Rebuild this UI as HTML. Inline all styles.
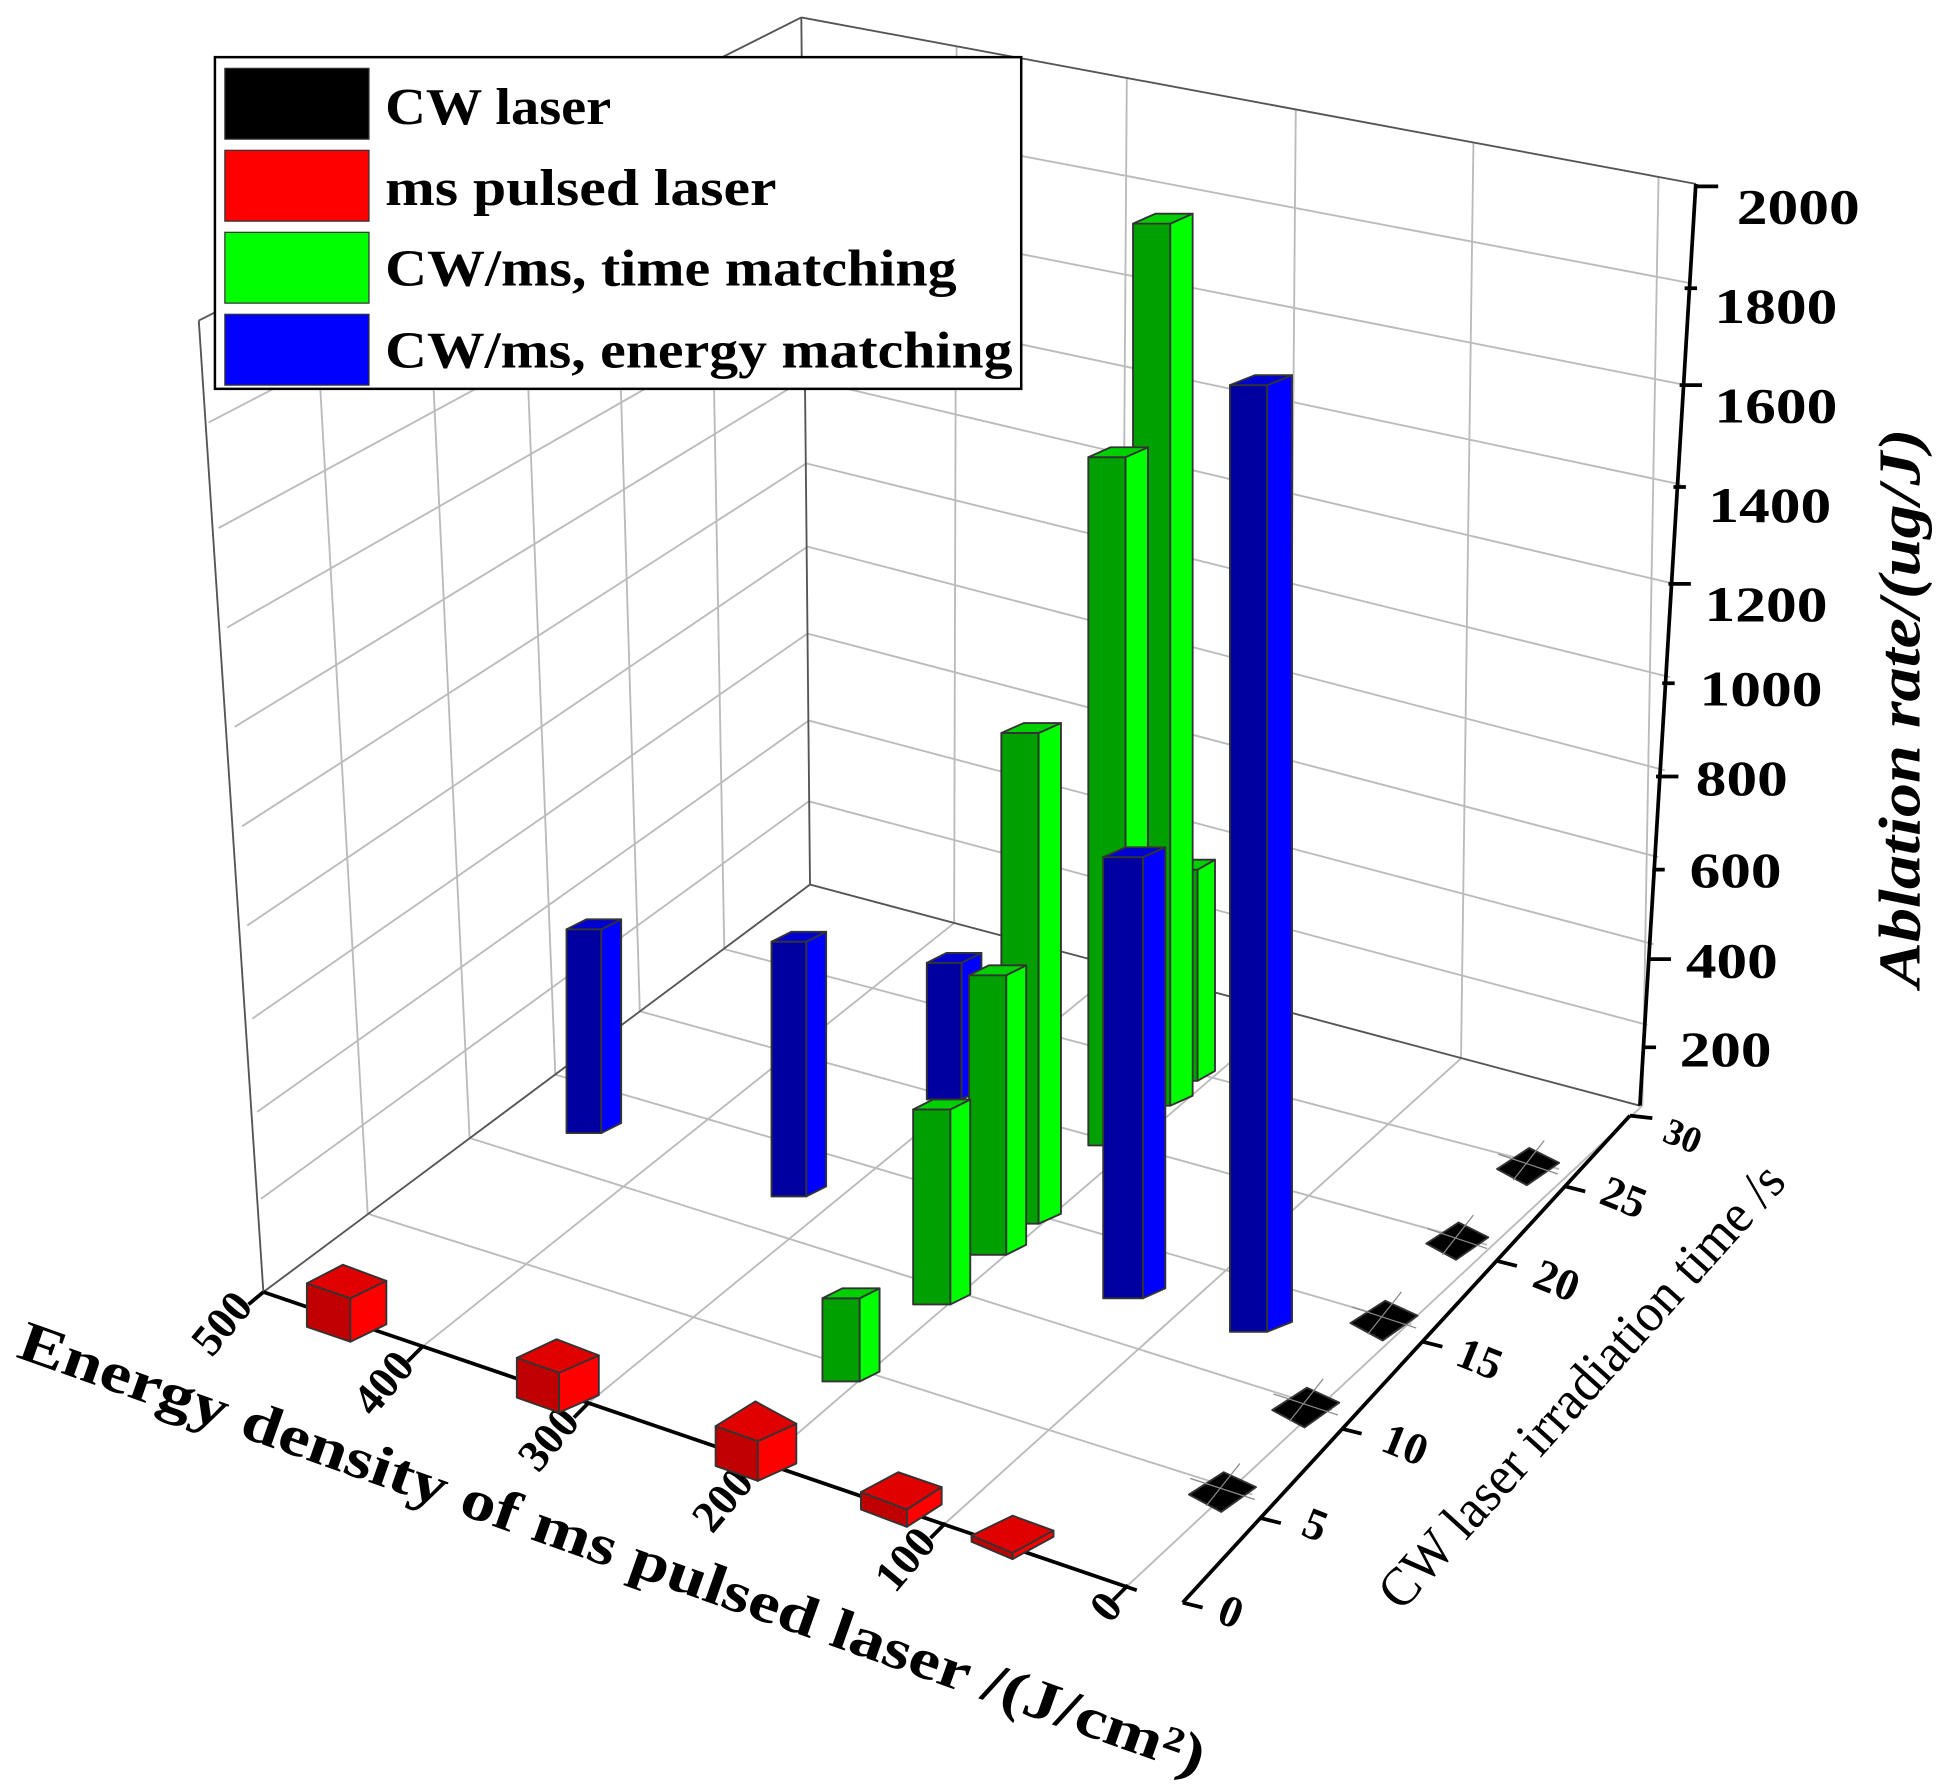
<!DOCTYPE html>
<html><head><style>html,body{margin:0;padding:0;background:#fff}svg{display:block}</style></head>
<body>
<svg width="1948" height="1787" viewBox="0 0 1568 1438.4" xmlns="http://www.w3.org/2000/svg" font-family="'Liberation Serif',serif">
<g stroke="#bbb" stroke-width="1.5" fill="none">
<!-- left wall horizontal -->
<line x1="168" y1="340" x2="646" y2="92"/><line x1="176" y1="425" x2="647" y2="170"/><line x1="183" y1="505" x2="647" y2="240"/><line x1="189" y1="585" x2="648" y2="305"/><line x1="195" y1="665" x2="649" y2="373"/><line x1="199" y1="745" x2="650" y2="440"/><line x1="203" y1="820" x2="650" y2="510"/><line x1="207" y1="895" x2="651" y2="580"/><line x1="210" y1="965" x2="651" y2="645"/>
<!-- left wall vertical -->
<line x1="252" y1="212" x2="296" y2="977"/><line x1="342" y1="167" x2="378" y2="916"/><line x1="418" y1="129" x2="447" y2="865"/><line x1="493" y1="91" x2="515" y2="814"/><line x1="570" y1="52" x2="583" y2="764"/>
<!-- back wall horizontal -->
<line x1="646" y1="92" x2="1361" y2="228"/><line x1="647" y1="170" x2="1357" y2="310"/><line x1="647" y1="240" x2="1353" y2="390"/><line x1="648" y1="305" x2="1348" y2="470"/><line x1="649" y1="373" x2="1344" y2="545"/><line x1="650" y1="440" x2="1340" y2="620"/><line x1="650" y1="510" x2="1335" y2="690"/><line x1="651" y1="580" x2="1331" y2="760"/><line x1="651" y1="645" x2="1326" y2="825"/>
<!-- back wall vertical -->
<line x1="770" y1="37" x2="768" y2="743"/><line x1="907" y1="63" x2="902" y2="779"/><line x1="1043" y1="88" x2="1037" y2="815"/><line x1="1186" y1="115" x2="1176" y2="852"/><line x1="1335" y1="143" x2="1322" y2="890"/>
<!-- floor -->
<line x1="340" y1="1084" x2="768" y2="743"/><line x1="474" y1="1129" x2="902" y2="779"/><line x1="615" y1="1177" x2="1037" y2="815"/><line x1="761" y1="1226" x2="1176" y2="852"/><line x1="908" y1="1276" x2="1322" y2="890"/>
<line x1="296" y1="977" x2="1008" y2="1203"/><line x1="378" y1="916" x2="1072" y2="1135"/><line x1="447" y1="865" x2="1136" y2="1066"/><line x1="515" y1="814" x2="1197" y2="1002"/><line x1="583" y1="764" x2="1255" y2="941"/>
</g>
<g stroke="#555" stroke-width="1.5" fill="none">
<line x1="160" y1="258" x2="212" y2="1040"/><line x1="645" y1="14" x2="652" y2="712"/><line x1="645" y1="14" x2="1365" y2="148"/><line x1="160" y1="258" x2="645" y2="14"/>
<line x1="212" y1="1040" x2="652" y2="712"/><line x1="652" y1="712" x2="1320" y2="890"/>
</g>
<!-- axes -->
<g stroke="#000" stroke-width="3" fill="none">
<line x1="1365" y1="148" x2="1320" y2="890"/>
<line x1="212" y1="1040" x2="915" y2="1280"/>
<line x1="952" y1="1290" x2="1312" y2="898"/>
<line x1="1312" y1="898" x2="1330" y2="900"/>
<path d="M1365 150h18M1356 232h10M1352 310h18M1347 392h10M1343 470h18M1338 550h10M1333 625h18M1330 700h10M1327 772h18M1323 843h10"/>
<path d="M212 1040l-12 10M340 1084l-12 12M474 1129l-12 12M615 1177l-12 12M761 1226l-12 12M908 1276l-12 12"/>
<path d="M952 1290l16 4M1015 1222l16 4M1080 1150l16 4M1145 1080l16 4M1205 1015l16 4M1260 955l16 4"/>
</g>
<g font-weight="bold" font-size="40" fill="#000">
<text x="1398" y="180" textLength="99" lengthAdjust="spacingAndGlyphs">2000</text><text x="1380" y="260" textLength="99" lengthAdjust="spacingAndGlyphs">1800</text><text x="1380" y="340" textLength="99" lengthAdjust="spacingAndGlyphs">1600</text><text x="1375" y="420" textLength="99" lengthAdjust="spacingAndGlyphs">1400</text><text x="1372" y="500" textLength="99" lengthAdjust="spacingAndGlyphs">1200</text><text x="1368" y="568" textLength="99" lengthAdjust="spacingAndGlyphs">1000</text><text x="1365" y="640" textLength="74" lengthAdjust="spacingAndGlyphs">800</text><text x="1360" y="714" textLength="74" lengthAdjust="spacingAndGlyphs">600</text><text x="1357" y="787" textLength="74" lengthAdjust="spacingAndGlyphs">400</text><text x="1352" y="858" textLength="74" lengthAdjust="spacingAndGlyphs">200</text>
</g>
<g font-weight="bold" font-size="36" fill="#000" text-anchor="end">
<text transform="translate(205,1052) rotate(-50)">500</text><text transform="translate(335,1100) rotate(-50)">400</text><text transform="translate(468,1145) rotate(-50)">300</text><text transform="translate(608,1194) rotate(-50)">200</text><text transform="translate(755,1242) rotate(-50)">100</text><text transform="translate(905,1294) rotate(-50)">0</text>
</g>
<g font-weight="bold" font-size="36" fill="#000">
<text transform="translate(978,1305) rotate(22)">0</text><text transform="translate(1046,1235) rotate(22)">5</text><text transform="translate(1110,1167) rotate(22)">10</text><text transform="translate(1170,1098) rotate(22)">15</text><text transform="translate(1232,1035) rotate(22)">20</text><text transform="translate(1286,968) rotate(22)">25</text><text transform="translate(1337,918) rotate(22)" font-size="30">30</text>
</g>
<text transform="translate(1545,795) rotate(-90)" font-size="48" font-weight="bold" font-style="italic" textLength="450" lengthAdjust="spacingAndGlyphs">Ablation rate/(ug/J)</text>
<text transform="translate(12,1092) rotate(19.5)" font-size="46" font-weight="bold" textLength="1010" lengthAdjust="spacingAndGlyphs">Energy density of ms pulsed laser /(J/cm²)</text>
<text transform="translate(1128,1298) rotate(-48)" font-size="44" textLength="465" lengthAdjust="spacingAndGlyphs">CW laser irradiation time /s</text>
<!-- bars -->
<g stroke="#333" stroke-width="1.5" stroke-linejoin="round">
<path d="M456 748h28v164h-28z" fill="#0000a0"/><path d="M484 748l16-8v164l-16 8z" fill="#0000ff"/><path d="M456 748l16-8h28l-16 8z" fill="#0000d0"/>
<path d="M621 758h28v205h-28z" fill="#0000a0"/><path d="M649 758l16-8v205l-16 8z" fill="#0000ff"/><path d="M621 758l16-8h28l-16 8z" fill="#0000d0"/>
<path d="M746 775h28v110h-28z" fill="#0000a0"/><path d="M774 775l16-8v110l-16 8z" fill="#0000ff"/><path d="M746 775l16-8h28l-16 8z" fill="#0000d0"/>
<path d="M946 700h18v170h-18z" fill="#00a000"/><path d="M964 700l14-8v170l-14 8z" fill="#00ff00"/><path d="M946 700l14-8h18l-14 8z" fill="#00d000"/>
<path d="M912 180h30v710h-30z" fill="#00a000"/><path d="M942 180l18-8v710l-18 8z" fill="#00ff00"/><path d="M912 180l18-8h30l-18 8z" fill="#00d000"/>
<path d="M876 368h30v554h-30z" fill="#00a000"/><path d="M906 368l18-8v554l-18 8z" fill="#00ff00"/><path d="M876 368l18-8h30l-18 8z" fill="#00d000"/>
<path d="M806 590h30v395h-30z" fill="#00a000"/><path d="M836 590l18-8v395l-18 8z" fill="#00ff00"/><path d="M806 590l18-8h30l-18 8z" fill="#00d000"/>
<path d="M780 785h30v225h-30z" fill="#00a000"/><path d="M810 785l16-8v225l-16 8z" fill="#00ff00"/><path d="M780 785l16-8h30l-16 8z" fill="#00d000"/>
<path d="M735 893h30v157h-30z" fill="#00a000"/><path d="M765 893l16-8v157l-16 8z" fill="#00ff00"/><path d="M735 893l16-8h30l-16 8z" fill="#00d000"/>
<path d="M662 1045h30v67h-30z" fill="#00a000"/><path d="M692 1045l16-8v67l-16 8z" fill="#00ff00"/><path d="M662 1045l16-8h30l-16 8z" fill="#00d000"/>
<path d="M888 690h32v355h-32z" fill="#0000a0"/><path d="M920 690l18-8v355l-18 8z" fill="#0000ff"/><path d="M888 690l18-8h32l-18 8z" fill="#0000d0"/>
<path d="M990 310h30v762h-30z" fill="#0000a0"/><path d="M1020 310l20-8v762l-20 8z" fill="#0000ff"/><path d="M990 310l20-8h30l-20 8z" fill="#0000d0"/>
<!-- red cubes -->
<path d="M282 1045l-35-12v35l35 12z" fill="#c00000"/><path d="M282 1045l29-14v35l-29 14z" fill="#ff0000"/><path d="M282 1045l-35-12 29-15 35 13z" fill="#e00000"/>
<path d="M450 1105l-34-12v32l34 12z" fill="#c00000"/><path d="M450 1105l32-14v32l-32 14z" fill="#ff0000"/><path d="M450 1105l-34-12 32-15 34 13z" fill="#e00000"/>
<path d="M610 1160l-34-12v32l34 12z" fill="#c00000"/><path d="M610 1160l31-14v32l-31 14z" fill="#ff0000"/><path d="M610 1160l-34-12 32-20 33 18z" fill="#e00000"/>
<path d="M730 1215l-37-14v14l37 14z" fill="#c00000"/><path d="M730 1215l28-18v14l-28 18z" fill="#ff0000"/><path d="M730 1215l-37-14 30-16 35 12z" fill="#e00000"/>
<path d="M815 1250l-33-14v5l33 14z" fill="#c00000"/><path d="M815 1250l33-18v5l-33 18z" fill="#ff0000"/><path d="M815 1250l-33-14 33-16 33 12z" fill="#e00000"/>
<!-- black -->
<path d="M957 1203l28-18 26 12-28 20z" fill="#000"/><path d="M1024 1135l28-18 26 12-28 20z" fill="#000"/><path d="M1087 1065l28-18 26 12-28 20z" fill="#000"/><path d="M1148 1001l26-17 24 12-26 18z" fill="#000"/><path d="M1205 941l26-17 24 12-26 18z" fill="#000"/>
</g>
<g stroke="#888" stroke-width="1"><path d="M958 1190l52 17M971 1212l27-34M1025 1122l52 17M1038 1144l27-34M1088 1052l52 17M1101 1074l27-34M1149 989l48 16M1161 1010l25-32M1206 929l48 16M1218 950l25-32"/></g>
<!-- legend -->
<rect x="173" y="46" width="649" height="267" fill="#fff" stroke="#000" stroke-width="2"/>
<rect x="181" y="55" width="116" height="57" fill="#000" stroke="#333"/>
<rect x="181" y="121" width="116" height="57" fill="#ff0000" stroke="#333"/>
<rect x="181" y="187" width="116" height="57" fill="#00ff00" stroke="#333"/>
<rect x="181" y="253" width="116" height="57" fill="#0000ff" stroke="#333"/>
<g font-size="42" font-weight="bold"><text x="310" y="100" textLength="182" lengthAdjust="spacingAndGlyphs">CW laser</text><text x="310" y="165" textLength="315" lengthAdjust="spacingAndGlyphs">ms pulsed laser</text><text x="310" y="230" textLength="460" lengthAdjust="spacingAndGlyphs">CW/ms, time matching</text><text x="310" y="296" textLength="505" lengthAdjust="spacingAndGlyphs">CW/ms, energy matching</text></g>
</svg>
</body></html>
